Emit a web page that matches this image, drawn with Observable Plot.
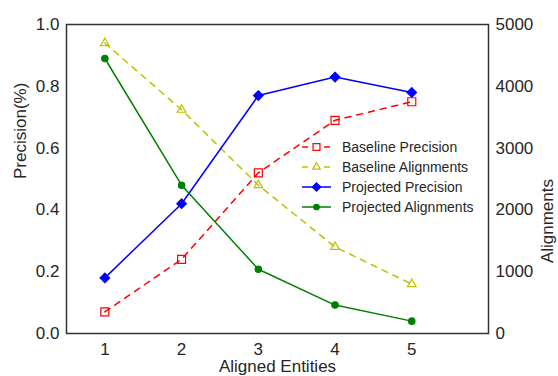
<!DOCTYPE html>
<html>
<head>
<meta charset="utf-8">
<script src="https://cdn.jsdelivr.net/npm/d3@7"></script>
<script src="https://cdn.jsdelivr.net/npm/@observablehq/plot@0.6"></script>
<style>
  html, body { margin: 0; padding: 0; background: #fff; overflow: hidden; }
  #chart svg { display: block; }
</style>
</head>
<body>
<div id="chart"></div>
<script>
const entities = [1, 2, 3, 4, 5];
const baselinePrecision = [0.07, 0.24, 0.52, 0.69, 0.75];
const baselineAlignments = [4700, 3620, 2400, 1400, 800];
const projectedPrecision = [0.18, 0.42, 0.77, 0.83, 0.78];
const projectedAlignments = [4450, 2400, 1040, 460, 200];
const leftTicks = [0, 0.2, 0.4, 0.6, 0.8, 1.0];
const rightTicks = [0, 1000, 2000, 3000, 4000, 5000];
const alignMax = 5000;

const seriesDefs = [
  {name: "Baseline Precision", values: baselinePrecision, scale: 1, color: "#ff0000", dash: "6,6", symbol: "square", r: 4.5, filled: false},
  {name: "Baseline Alignments", values: baselineAlignments, scale: alignMax, color: "#bfbf00", dash: "6,6", symbol: "triangle", r: 3.2, filled: false},
  {name: "Projected Precision", values: projectedPrecision, scale: 1, color: "#0000ff", dash: null, symbol: "diamond2", r: 4.3, filled: true},
  {name: "Projected Alignments", values: projectedAlignments, scale: alignMax, color: "#008000", dash: null, symbol: "circle", r: 3.2, filled: true}
];

const font = "'Liberation Sans', Arial, sans-serif";
const textColor = "#262626";

const marks = [];
for (const s of seriesDefs) {
  const data = entities.map((x, i) => ({x, y: s.values[i] / s.scale}));
  marks.push(Plot.line(data, {x: "x", y: "y", stroke: s.color, strokeWidth: 1.5, strokeDasharray: s.dash || undefined}));
  marks.push(Plot.dot(data, {
    x: "x", y: "y", symbol: () => s.symbol, r: s.r,
    stroke: s.color, strokeWidth: 1.2,
    fill: s.filled ? s.color : "white", fillOpacity: s.filled ? 1 : 0
  }));
}

const plot = Plot.plot({
  width: 558,
  height: 376,
  marginLeft: 66,
  marginRight: 70,
  marginTop: 24,
  marginBottom: 43,
  style: {fontFamily: font, fontSize: "17px", color: textColor, background: "white", overflow: "hidden"},
  x: {domain: [0.5, 6]},
  y: {domain: [0, 1]},
  symbol: {type: "identity"},
  marks: [
    ...marks,
    Plot.frame({stroke: "#333333", strokeWidth: 1.5}),
    Plot.axisX({ticks: entities, tickSize: 0, tickPadding: 9, tickFormat: d => String(d), label: null, fontSize: 17, fill: textColor}),
    Plot.axisY({ticks: leftTicks, tickSize: 0, tickPadding: 7, tickFormat: d => d.toFixed(1), label: null, fontSize: 17, fill: textColor}),
    Plot.axisY({anchor: "right", ticks: rightTicks.map(v => v / alignMax), tickSize: 0, tickPadding: 7, tickFormat: d => String(Math.round(d * alignMax)), label: null, fontSize: 17, fill: textColor}),
    Plot.text(["Precision(%)"], {frameAnchor: "left", dx: -46, rotate: -90, fontSize: 17, fill: textColor}),
    Plot.text(["Alignments"], {frameAnchor: "right", dx: 59, rotate: -90, fontSize: 17, fill: textColor}),
    Plot.text(["Aligned Entities"], {frameAnchor: "bottom", dy: 33, lineAnchor: "middle", fontSize: 17, fill: textColor})
  ]
});

document.getElementById("chart").appendChild(plot);

// Legend (inside the plot area, no frame)
const svg = d3.select(plot);
const lg = svg.append("g").attr("font-family", font).attr("font-size", 14).attr("fill", textColor).attr("text-anchor", "start");
const symMap = {square: d3.symbolSquare, triangle: d3.symbolTriangle, diamond2: d3.symbolDiamond2, circle: d3.symbolCircle};
seriesDefs.forEach((s, i) => {
  const y = 147 + i * 20;
  const g = lg.append("g").attr("transform", `translate(0,${y})`);
  g.append("line").attr("x1", 302).attr("x2", 331).attr("y1", 0).attr("y2", 0)
    .attr("stroke", s.color).attr("stroke-width", 1.5)
    .attr("stroke-dasharray", s.dash ? "6,5" : null);
  g.append("path")
    .attr("transform", "translate(316.5,0)")
    .attr("d", d3.symbol(symMap[s.symbol], Math.PI * s.r * s.r * 0.75)())
    .attr("stroke", s.color).attr("stroke-width", 1.2)
    .attr("fill", s.filled ? s.color : "white");
  g.append("text").attr("x", 342).attr("y", 0).attr("dy", "0.35em").attr("text-anchor", "start").text(s.name);
});
</script>
</body>
</html>
